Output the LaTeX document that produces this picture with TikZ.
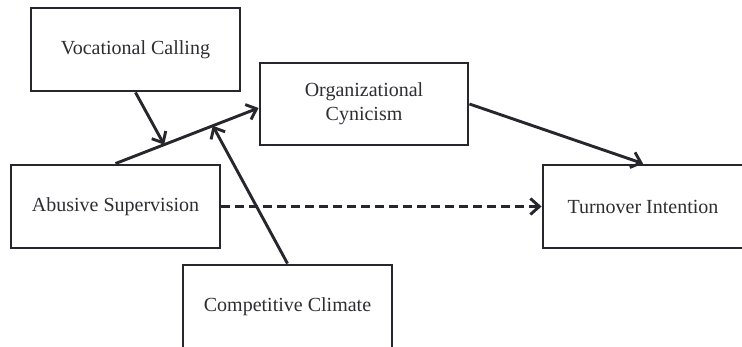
\documentclass[tikz,border=0pt]{standalone}
\usepackage{fontspec}
\setmainfont{Liberation Serif}
\usetikzlibrary{arrows.meta}

\definecolor{linegray}{RGB}{38,38,44}
\definecolor{textgray}{RGB}{45,45,50}

\tikzset{
	varbox/.style={shape=rectangle,draw=linegray,line width=2.9pt,text=textgray,minimum width=209pt,minimum height=83pt,align=center,font=\fontsize{20}{24}\selectfont,inner sep=0pt},
	path/.style={draw=linegray,line width=2.9pt,-{Straight Barb[length=9pt,width=16pt]}}
}

\begin{document}
\begin{tikzpicture}[x=1pt,y=-1pt]
	
	\useasboundingbox (0,0) rectangle (742,347);
	
	\node[varbox] (calling) at (135.5, 49.5)  {Vocational Calling};
	\node[varbox,minimum width=208pt,minimum height=82pt] (cynicism) at (364, 104) {Organizational\\Cynicism};
	\node[varbox] (abuse) at (115.5, 206.5)   {Abusive Supervision};
	\node[varbox] (climate) at (287.5, 306.5) {Competitive Climate};
	\node[varbox,minimum width=200pt] (turnover) at (643, 206.5) {Turnover Intention};
	
	\path[path] (abuse.north) -- coordinate[pos=0.34] (m1) coordinate[pos=0.68] (m2) ([yshift=-4pt]cynicism.west);
	\path[path] (calling.south) -- (m1);
	\path[path] (climate.north) -- (m2);
	\path[path] (cynicism.east) -- (turnover.north);
	\path[path,dash pattern=on 9pt off 5pt] (abuse.east) -- (turnover.west);
	
\end{tikzpicture}
\end{document}
